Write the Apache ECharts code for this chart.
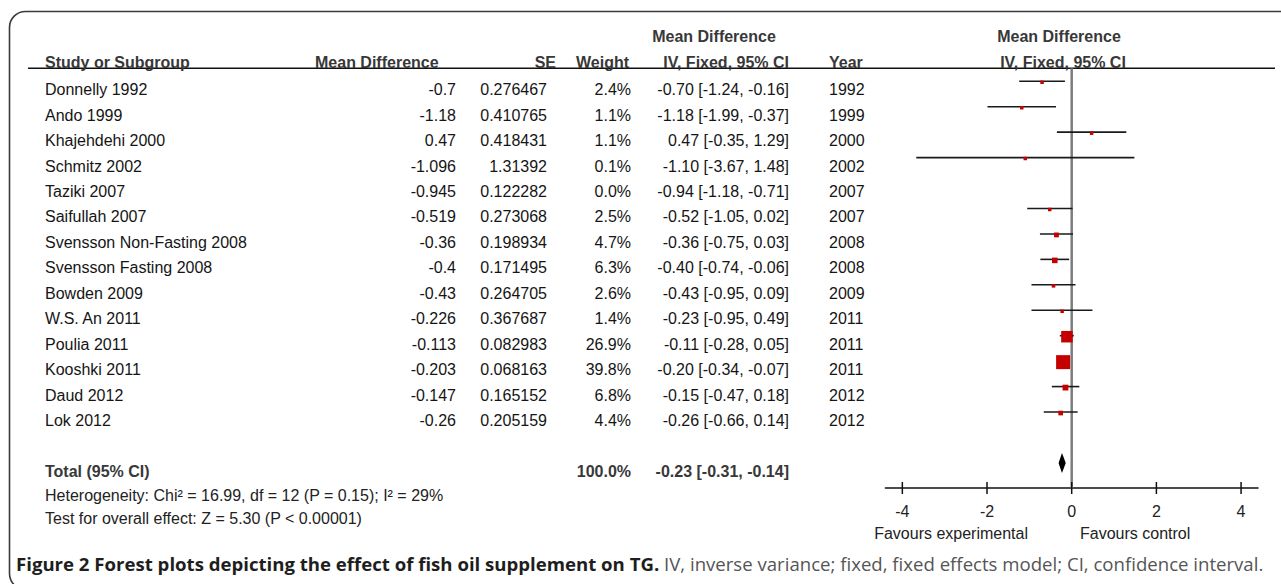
<!DOCTYPE html>
<html>
<head>
<meta charset="utf-8">
<script src="https://cdn.jsdelivr.net/npm/echarts@6/dist/echarts.min.js"></script>
<style>
html,body{margin:0;padding:0;background:#fff;}
#chart{width:1281px;height:584px;}
</style>
</head>
<body>
<div id="chart"></div>
<script>
// ---------------- data ----------------
const studies = ['Donnelly 1992','Ando 1999','Khajehdehi 2000','Schmitz 2002','Taziki 2007','Saifullah 2007','Svensson Non-Fasting 2008','Svensson Fasting 2008','Bowden 2009','W.S. An 2011','Poulia 2011','Kooshki 2011','Daud 2012','Lok 2012'];
const meanDiff = [-0.7,-1.18,0.47,-1.096,-0.945,-0.519,-0.36,-0.4,-0.43,-0.226,-0.113,-0.203,-0.147,-0.26];
const stdErr = [0.276467,0.410765,0.418431,1.31392,0.122282,0.273068,0.198934,0.171495,0.264705,0.367687,0.082983,0.068163,0.165152,0.205159];
const weights = [2.4,1.1,1.1,0.1,0.0,2.5,4.7,6.3,2.6,1.4,26.9,39.8,6.8,4.4];
const ciEst = ['-0.70','-1.18','0.47','-1.10','-0.94','-0.52','-0.36','-0.40','-0.43','-0.23','-0.11','-0.20','-0.15','-0.26'];
const ciLow = [-1.24,-1.99,-0.35,-3.67,-1.18,-1.05,-0.75,-0.74,-0.95,-0.95,-0.28,-0.34,-0.47,-0.66];
const ciHigh = [-0.16,-0.37,1.29,1.48,-0.71,0.02,0.03,-0.06,0.09,0.49,0.05,-0.07,0.18,0.14];
const years = [1992,1999,2000,2002,2007,2007,2008,2008,2009,2011,2011,2011,2012,2012];
const totalWeight = 100.0;
const totalEst = -0.23, totalLow = -0.31, totalHigh = -0.14;
const xTicks = [-4,-2,0,2,4];
const heterogeneity = 'Heterogeneity: Chi² = 16.99, df = 12 (P = 0.15); I² = 29%';
const overallTest = 'Test for overall effect: Z = 5.30 (P < 0.00001)';
const captionBold = 'Figure 2 Forest plots depicting the effect of fish oil supplement on TG.';
const captionRest = ' IV, inverse variance; fixed, fixed effects model; CI, confidence interval.';

// ---------------- layout ----------------
const FONT = '"Liberation Sans", Arial, Helvetica, sans-serif';
const FS = 16;
const REG = FS + 'px ' + FONT;
const BOLD = 'bold ' + FS + 'px ' + FONT;
const Y_MIN = -0.51, Y_MAX = 15.986, TOTAL_ROW = 15;
const TXT_OFF = 8.5;
const HEAD_C = '#383838', BODY_C = '#151515';
const CAP_FONT = '18.6px "Open Sans", "Noto Sans", sans-serif';

function t(x, y, text, font, fill, align) {
  return { type: 'text', x: x, y: y, silent: true,
    style: { text: text, font: font, fill: fill, align: align || 'left', verticalAlign: 'middle' } };
}

const chart = echarts.init(document.getElementById('chart'), null, { renderer: 'svg' });

const rows = studies.map((s, i) => [meanDiff[i], i]);

const option = {
  animation: false,
  backgroundColor: '#fff',
  grid: { left: 885.4, top: 68.3, width: 372.6, height: 419.7, outerBoundsMode: 'none', containLabel: false },
  xAxis: {
    type: 'value', min: -4.4, max: 4.4,
    axisLine: { show: true, onZero: false, lineStyle: { color: '#111', width: 1.5 } },
    axisTick: { show: false },
    splitLine: { show: false },
    axisLabel: { customValues: xTicks, margin: 15, fontSize: FS, fontFamily: FONT, color: '#222' }
  },
  yAxis: { type: 'value', inverse: true, min: Y_MIN, max: Y_MAX, show: false },
  series: [
    { // zero line
      type: 'custom', clip: false, silent: true, data: [[0, 0]],
      renderItem: function (params, api) {
        const a = api.coord([0, Y_MIN]), b = api.coord([0, Y_MAX]);
        return { type: 'line', shape: { x1: a[0], y1: a[1], x2: b[0], y2: b[1] },
          style: { stroke: '#7c7c7c', lineWidth: 2.5 } };
      }
    },
    { // axis ticks crossing the axis line
      type: 'custom', clip: false, silent: true, data: xTicks.map(v => [v, Y_MAX]),
      renderItem: function (params, api) {
        const p = api.coord([api.value(0), Y_MAX]);
        return { type: 'line', shape: { x1: p[0], y1: p[1] - 6, x2: p[0], y2: p[1] + 6 },
          style: { stroke: '#111', lineWidth: 1.5 } };
      }
    },
    { // study CIs and weighted squares
      type: 'custom', clip: false, silent: true, data: rows,
      renderItem: function (params, api) {
        const i = params.dataIndex;
        if (!(weights[i] > 0)) return { type: 'group', children: [] };
        const lo = api.coord([ciLow[i], i]), hi = api.coord([ciHigh[i], i]);
        const c = api.coord([meanDiff[i], i]);
        const s = Math.max(3.5, 14 * Math.sqrt(weights[i] / 39.8));
        return { type: 'group', children: [
          { type: 'line', shape: { x1: lo[0], y1: lo[1], x2: hi[0], y2: hi[1] },
            style: { stroke: '#1a1a1a', lineWidth: 1.6 } },
          { type: 'rect', shape: { x: c[0] - s / 2, y: c[1] + 1 - s / 2, width: s, height: s },
            style: { fill: '#c40000' } }
        ] };
      }
    },
    { // pooled diamond
      type: 'custom', clip: false, silent: true, data: [[totalEst, TOTAL_ROW]],
      renderItem: function (params, api) {
        const l = api.coord([totalLow, TOTAL_ROW]), m = api.coord([totalEst, TOTAL_ROW]), r = api.coord([totalHigh, TOTAL_ROW]);
        return { type: 'polygon', shape: { points: [[l[0], l[1]], [m[0], m[1] - 10], [r[0], r[1]], [m[0], m[1] + 10]] },
          style: { fill: '#000' } };
      }
    },
    { // table text rows
      type: 'custom', clip: false, silent: true, data: rows,
      renderItem: function (params, api) {
        const i = params.dataIndex;
        const y = api.coord([0, i])[1] + TXT_OFF;
        return { type: 'group', children: [
          t(45, y, studies[i], REG, BODY_C, 'left'),
          t(456, y, String(meanDiff[i]), REG, BODY_C, 'right'),
          t(547, y, String(stdErr[i]), REG, BODY_C, 'right'),
          t(631, y, weights[i].toFixed(1) + '%', REG, BODY_C, 'right'),
          t(789, y, ciEst[i] + ' [' + ciLow[i].toFixed(2) + ', ' + ciHigh[i].toFixed(2) + ']', REG, BODY_C, 'right'),
          t(829, y, String(years[i]), REG, BODY_C, 'left')
        ] };
      }
    },
    { // total row text
      type: 'custom', clip: false, silent: true, data: [[totalEst, TOTAL_ROW]],
      renderItem: function (params, api) {
        const y = api.coord([0, TOTAL_ROW])[1] + TXT_OFF;
        return { type: 'group', children: [
          t(45, y, 'Total (95% CI)', BOLD, HEAD_C, 'left'),
          t(631, y, totalWeight.toFixed(1) + '%', BOLD, HEAD_C, 'right'),
          t(789, y, totalEst.toFixed(2) + ' [' + totalLow.toFixed(2) + ', ' + totalHigh.toFixed(2) + ']', BOLD, HEAD_C, 'right')
        ] };
      }
    }
  ],
  graphic: [
    { type: 'rect', silent: true, shape: { x: 9.5, y: 11.5, width: 1300, height: 578, r: 16 },
      style: { fill: 'none', stroke: '#3a3a3a', lineWidth: 1.6 } },
    { type: 'line', silent: true, shape: { x1: 28, y1: 68.3, x2: 1275, y2: 68.3 },
      style: { stroke: '#111', lineWidth: 1.5 } },
    t(714, 36, 'Mean Difference', BOLD, HEAD_C, 'center'),
    t(1059, 36, 'Mean Difference', BOLD, HEAD_C, 'center'),
    t(45, 62, 'Study or Subgroup', BOLD, HEAD_C, 'left'),
    t(315, 62, 'Mean Difference', BOLD, HEAD_C, 'left'),
    t(556, 62, 'SE', BOLD, HEAD_C, 'right'),
    t(629, 62, 'Weight', BOLD, HEAD_C, 'right'),
    t(789, 62, 'IV, Fixed, 95% CI', BOLD, HEAD_C, 'right'),
    t(829, 62, 'Year', BOLD, HEAD_C, 'left'),
    t(1063, 62, 'IV, Fixed, 95% CI', BOLD, HEAD_C, 'center'),
    t(1028, 533, 'Favours experimental', REG, '#222', 'right'),
    t(1080, 533, 'Favours control', REG, '#222', 'left'),
    t(45, 495, heterogeneity, REG, '#222', 'left'),
    t(45, 518, overallTest, REG, '#222', 'left'),
    { type: 'text', x: 16, y: 563, silent: true,
      style: { text: '{b|' + captionBold + '}{r|' + captionRest + '}', verticalAlign: 'middle', align: 'left',
        rich: {
          b: { font: 'bold ' + CAP_FONT, fill: '#1e1e1e' },
          r: { font: CAP_FONT, fill: '#555' }
        } } }
  ]
};
chart.setOption(option);
</script>
</body>
</html>
